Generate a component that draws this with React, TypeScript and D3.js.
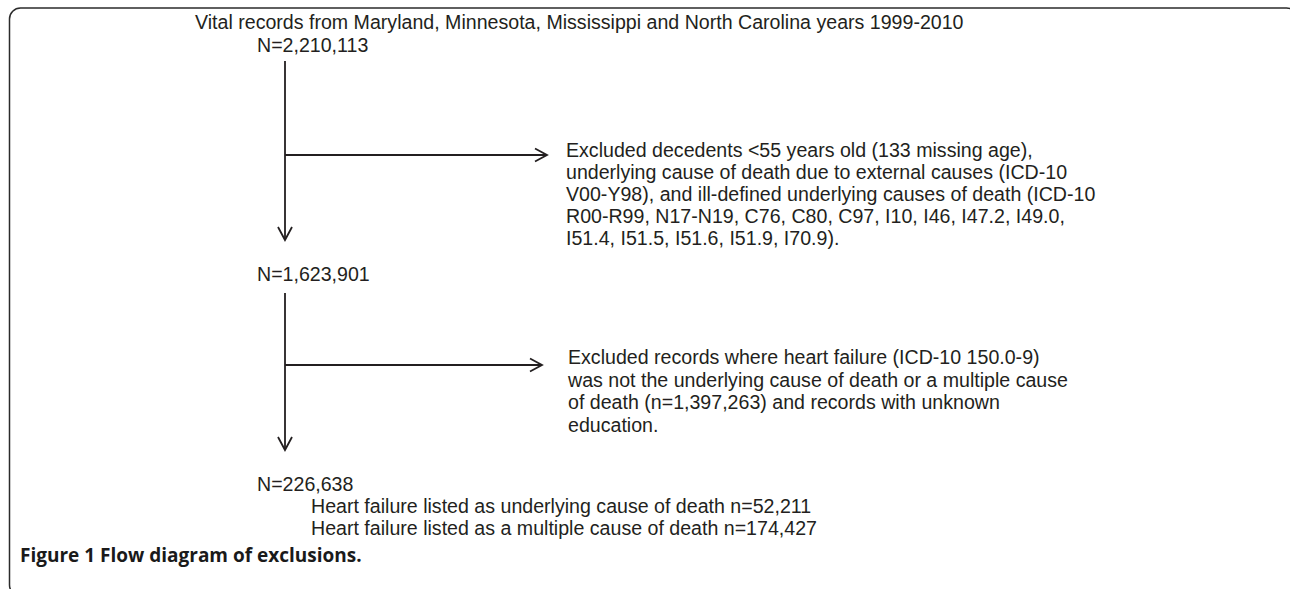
import React, { useEffect, useRef } from 'react';
import * as d3 from 'd3';

// flow diagram content
const sourceTitle = 'Vital records from Maryland, Minnesota, Mississippi and North Carolina years 1999-2010';
const stageCounts = [2210113, 1623901, 226638];
const exclusionLines1 = [
  'Excluded decedents <55 years old (133 missing age),',
  'underlying cause of death due to external causes (ICD-10',
  'V00-Y98), and ill-defined underlying causes of death (ICD-10',
  'R00-R99, N17-N19, C76, C80, C97, I10, I46, I47.2, I49.0,',
  'I51.4, I51.5, I51.6, I51.9, I70.9).',
];
const exclusionLines2 = [
  'Excluded records where heart failure (ICD-10 150.0-9)',
  'was not the underlying cause of death or a multiple cause',
  'of death (n=1,397,263) and records with unknown',
  'education.',
];
const subgroupLabels = [
  'Heart failure listed as underlying cause of death',
  'Heart failure listed as a multiple cause of death',
];
const subgroupCounts = [52211, 174427];
const captionLabel = 'Figure 1';
const captionText = 'Flow diagram of exclusions.';

const W = 1290;
const H = 589;

export default function App() {
  const ref = useRef<SVGSVGElement>(null);

  useEffect(() => {
    const svg = d3.select(ref.current);
    svg.selectAll('*').remove();

    const fmt = d3.format(',');
    const font = '"Liberation Sans", Arial, Helvetica, sans-serif';
    const ink = '#231f20';

    // layout
    const stemX = 285;
    const countX = 257;
    const stageY = [52, 281, 491];
    const stemTop = [61, 293];
    const stemTip = [240, 450];
    const branchY = [155, 365];
    const branchEnd = [547, 542];
    const noteX = [566, 568];
    const noteY0 = [157, 364];
    const lineStep = [22, 22.6];
    const exclusions = [exclusionLines1, exclusionLines2];

    // frame
    svg.append('rect')
      .attr('x', 9.5).attr('y', 8)
      .attr('width', 1288).attr('height', 588)
      .attr('rx', 11)
      .attr('fill', 'none')
      .attr('stroke', '#2b2b2b')
      .attr('stroke-width', 1.5);

    const g = svg.append('g').attr('font-family', font).attr('font-size', 19.6).attr('fill', ink);

    g.append('text').attr('x', 195).attr('y', 29).text(sourceTitle);

    stageCounts.forEach((n, i) => {
      g.append('text').attr('x', countX).attr('y', stageY[i]).text(`N=${fmt(n)}`);
    });

    const line = d3.line<[number, number]>();
    const arrows = svg.append('g')
      .attr('fill', 'none')
      .attr('stroke', ink)
      .attr('stroke-width', 1.8);

    branchY.forEach((by, i) => {
      const tip = stemTip[i];
      const end = branchEnd[i];
      arrows.append('path').attr('d', line([[stemX, stemTop[i]], [stemX, tip]]));
      arrows.append('path').attr('d', line([[stemX - 7, tip - 13], [stemX, tip], [stemX + 7, tip - 13]]));
      arrows.append('path').attr('d', line([[stemX, by], [end, by]]));
      arrows.append('path').attr('d', line([[end - 12, by - 6.5], [end, by], [end - 12, by + 6.5]]));

      exclusions[i].forEach((t, j) => {
        g.append('text').attr('x', noteX[i]).attr('y', noteY0[i] + j * lineStep[i]).text(t);
      });
    });

    subgroupLabels.forEach((t, i) => {
      g.append('text').attr('x', 311).attr('y', 513 + i * 22).text(`${t} n=${fmt(subgroupCounts[i])}`);
    });

    const cap = svg.append('text')
      .attr('x', 20).attr('y', 562)
      .attr('font-family', '"Open Sans", "Noto Sans", sans-serif')
      .attr('font-weight', 700)
      .attr('font-size', 19)
      .attr('fill', '#1a1a1a');
    cap.append('tspan').text(captionLabel);
    cap.append('tspan').text(` ${captionText}`);
  }, []);

  return (
    <svg ref={ref} width={W} height={H} style={{ position: 'absolute', left: 0, top: 0, background: '#fff' }} />
  );
}
